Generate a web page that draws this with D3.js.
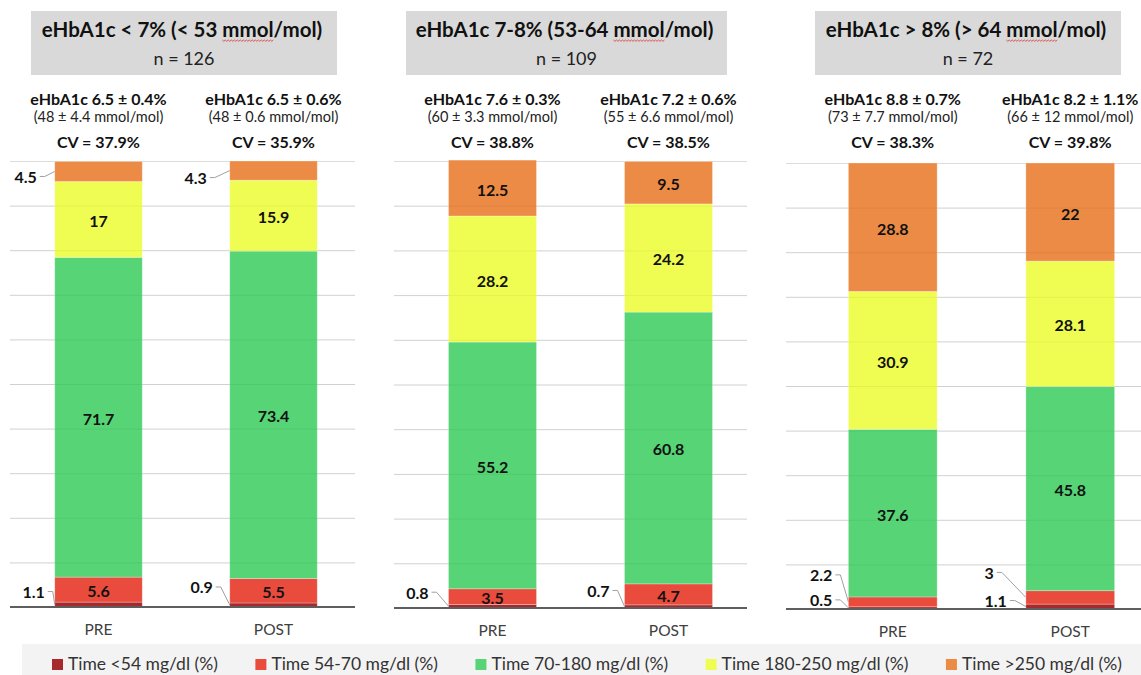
<!DOCTYPE html>
<html><head><meta charset="utf-8">
<script src="https://cdn.jsdelivr.net/npm/d3@7"></script>
<style>
body{margin:0;background:#fff;}
svg{display:block;font-family:Lato,'Open Sans',sans-serif;}
</style>
</head><body>
<svg id="chart" width="1141" height="675"></svg>
<script>
// ---------------- DATA ----------------
const groupTitles = ["eHbA1c < 7% (< 53 mmol/mol)", "eHbA1c 7-8% (53-64 mmol/mol)", "eHbA1c > 8% (> 64 mmol/mol)"];
const groupN = ["n = 126", "n = 109", "n = 72"];
const categories = ["PRE", "POST"];
const seriesNames = ["Time <54 mg/dl (%)", "Time 54-70 mg/dl (%)", "Time 70-180 mg/dl (%)", "Time 180-250 mg/dl (%)", "Time >250 mg/dl (%)"];
const seriesColors = ["#a8292c", "#e94b3c", "#56d476", "#effd52", "#ec8b45"];
const hba1cLabels = [["eHbA1c 6.5 ± 0.4%", "eHbA1c 6.5 ± 0.6%"], ["eHbA1c 7.6 ± 0.3%", "eHbA1c 7.2 ± 0.6%"], ["eHbA1c 8.8 ± 0.7%", "eHbA1c 8.2 ± 1.1%"]];
const mmolLabels = [["(48 ± 4.4 mmol/mol)", "(48 ± 0.6 mmol/mol)"], ["(60 ± 3.3 mmol/mol)", "(55 ± 6.6 mmol/mol)"], ["(73 ± 7.7 mmol/mol)", "(66 ± 12 mmol/mol)"]];
const cvLabels = [["CV = 37.9%", "CV = 35.9%"], ["CV = 38.8%", "CV = 38.5%"], ["CV = 38.3%", "CV = 39.8%"]];
// values per group: [PRE, POST]
const below54      = [[1.1, 0.9], [0.8, 0.7], [0.5, 1.1]];
const from54to70   = [[5.6, 5.5], [3.5, 4.7], [2.2, 3]];
const from70to180  = [[71.7, 73.4], [55.2, 60.8], [37.6, 45.8]];
const from180to250 = [[17, 15.9], [28.2, 24.2], [30.9, 28.1]];
const above250     = [[4.5, 4.3], [12.5, 9.5], [28.8, 22]];
const gridTicks = [10, 20, 30, 40, 50, 60, 70, 80, 90, 100];

const seriesValues = [below54, from54to70, from70to180, from180to250, above250];

// ---------------- LAYOUT ----------------
const panels = [
  {grid: [10, 355],  band: [11, 361],      y: [607, 161], box: [31, 337]},
  {grid: [394, 747], band: [404.5, 756.5], y: [608, 161], box: [406, 727]},
  {grid: [786, 1141], band: [804, 1159],   y: [609, 163], box: [815, 1121]}
];
// labels drawn outside the bar with a leader line (offsets in px)
const outsideLabels = [
  {g: 0, c: 0, s: 0, dx: -10, dy: -13},
  {g: 0, c: 1, s: 0, dx: -17, dy: -18},
  {g: 0, c: 0, s: 4, dx: -18, dy: 5},
  {g: 0, c: 1, s: 4, dx: -23, dy: 7},
  {g: 1, c: 0, s: 0, dx: -20, dy: -14},
  {g: 1, c: 1, s: 0, dx: -15, dy: -16},
  {g: 2, c: 0, s: 0, dx: -16, dy: -8},
  {g: 2, c: 0, s: 1, dx: -16, dy: -27},
  {g: 2, c: 1, s: 0, dx: -19, dy: -6},
  {g: 2, c: 1, s: 1, dx: -32, dy: -25}
];

const svg = d3.select("#chart");

function squiggle(textSel, word) {
  const node = textSel.node();
  const str = textSel.text();
  const i = str.indexOf(word);
  if (i < 0) return;
  const x0 = node.getStartPositionOfChar(i).x;
  const x1 = node.getEndPositionOfChar(i + word.length - 1).x;
  const yb = node.getStartPositionOfChar(i).y + 3;
  let d = `M${x0},${yb}`;
  let k = 0;
  for (let x = x0 + 1.5; x <= x1; x += 1.5) { k++; d += `L${x},${yb + (k % 2 ? 1.3 : 0)}`; }
  svg.append("path").attr("d", d).attr("fill", "none").attr("stroke", "#e0443c").attr("stroke-width", 0.9);
}

panels.forEach((p, g) => {
  const x = d3.scaleBand().domain(categories).range(p.band).paddingInner(0.5).paddingOuter(0.25);
  const y = d3.scaleLinear().domain([0, 100]).range(p.y);
  const gp = svg.append("g");

  // header box
  gp.append("rect").attr("x", p.box[0]).attr("y", 11).attr("width", p.box[1] - p.box[0]).attr("height", 64).attr("fill", "#d9d9d9");
  const cx = (p.box[0] + p.box[1]) / 2;
  const t = gp.append("text").attr("x", cx - 2).attr("y", 37).attr("text-anchor", "middle")
    .attr("font-size", 20.5).attr("font-weight", 700).attr("fill", "#111").text(groupTitles[g]);
  squiggle(t, "mmol");
  gp.append("text").attr("x", cx).attr("y", 65).attr("text-anchor", "middle")
    .attr("font-size", 18).attr("fill", "#222").text(groupN[g]);

  // grid
  const grid = gp.append("g").attr("transform", `translate(${p.grid[0]},0)`)
    .call(d3.axisLeft(y).tickValues(gridTicks).tickSize(-(p.grid[1] - p.grid[0])).tickFormat(""));
  grid.select(".domain").remove();
  grid.selectAll(".tick line").attr("stroke", "#dcdcdc").attr("stroke-width", 1);

  // stacked data
  const rows = categories.map((c, ci) => {
    const r = {cat: c};
    seriesNames.forEach((s, si) => r[s] = seriesValues[si][g][ci]);
    return r;
  });
  const stacked = d3.stack().keys(seriesNames)(rows);

  stacked.forEach((layer, si) => {
    gp.append("g").selectAll("rect").data(layer).join("rect")
      .attr("x", d => x(d.data.cat))
      .attr("width", x.bandwidth())
      .attr("y", d => y(d[1]))
      .attr("height", d => y(d[0]) - y(d[1]))
      .attr("fill", seriesColors[si])
      .attr("stroke", "rgba(255,255,255,0.35)").attr("stroke-width", 0.8);
  });

  // faint grid showing through bars
  const grid2 = gp.append("g").attr("transform", `translate(${p.grid[0]},0)`)
    .call(d3.axisLeft(y).tickValues(gridTicks.slice(0, 9)).tickSize(-(p.grid[1] - p.grid[0])).tickFormat(""));
  grid2.select(".domain").remove();
  grid2.selectAll(".tick line").attr("stroke", "rgba(0,0,0,0.05)");

  // baseline + category axis
  gp.append("line").attr("x1", p.grid[0]).attr("x2", p.grid[1]).attr("y1", y(0)).attr("y2", y(0))
    .attr("stroke", "#5e5e5e").attr("stroke-width", 2);
  const ax = gp.append("g").attr("transform", `translate(0,${y(0)})`)
    .call(d3.axisBottom(x).tickSize(0).tickPadding(17));
  ax.select(".domain").remove();
  ax.selectAll("text").attr("font-size", 15.5).attr("fill", "#404040").attr("font-family", "Lato, sans-serif");

  // value labels
  stacked.forEach((layer, si) => {
    layer.forEach((d, ci) => {
      const v = seriesValues[si][g][ci];
      const mid = y((d[0] + d[1]) / 2);
      const out = outsideLabels.find(o => o.g === g && o.c === ci && o.s === si);
      if (out) {
        const bx = x(d.data.cat);
        const tx = bx + out.dx, ty = mid + out.dy;
        gp.append("text").attr("x", tx).attr("y", ty).attr("text-anchor", "end").attr("dominant-baseline", "central")
          .attr("font-size", 16).attr("font-weight", 700).attr("fill", "#111").text(v);
        gp.append("path").attr("d", `M${tx + 3},${ty}L${tx + 8},${ty}L${bx},${mid}`)
          .attr("fill", "none").attr("stroke", "#a0a0a0").attr("stroke-width", 1);
      } else {
        gp.append("text").attr("x", x(d.data.cat) + x.bandwidth() / 2).attr("y", mid + 1)
          .attr("text-anchor", "middle").attr("dominant-baseline", "central")
          .attr("font-size", 16).attr("font-weight", 700).attr("fill", "#111").text(v);
      }
    });
  });

  // per-bar header texts
  categories.forEach((c, ci) => {
    const bx = x(c) + x.bandwidth() / 2;
    gp.append("text").attr("x", bx).attr("y", 105).attr("text-anchor", "middle")
      .attr("font-size", 16).attr("font-weight", 700).attr("fill", "#111").text(hba1cLabels[g][ci]);
    gp.append("text").attr("x", bx).attr("y", 122).attr("text-anchor", "middle")
      .attr("font-size", 14.5).attr("fill", "#222").text(mmolLabels[g][ci]);
    gp.append("text").attr("x", bx).attr("y", 148).attr("text-anchor", "middle")
      .attr("font-size", 16).attr("font-weight", 700).attr("fill", "#111").text(cvLabels[g][ci]);
  });
});

// ---------------- LEGEND ----------------
svg.append("rect").attr("x", 22).attr("y", 644).attr("width", 1141 - 22).attr("height", 31).attr("fill", "#f3f3f3");
const lg = svg.append("g");
const items = lg.selectAll("g").data(seriesNames).join("g");
items.append("rect").attr("width", 11).attr("height", 11).attr("y", 659).attr("fill", (d, i) => seriesColors[i]);
items.append("text").attr("x", 16).attr("y", 670).attr("font-size", 17.5).attr("fill", "#333").text(d => d);
const widths = [];
items.each(function () { widths.push(this.getBBox().width); });
const legStart = 52, legEnd = 1122;
const gap = (legEnd - legStart - d3.sum(widths)) / (widths.length - 1);
let cursor = legStart;
items.attr("transform", (d, i) => { const tx = cursor; cursor += widths[i] + gap; return `translate(${tx},0)`; });
</script>
</body></html>
